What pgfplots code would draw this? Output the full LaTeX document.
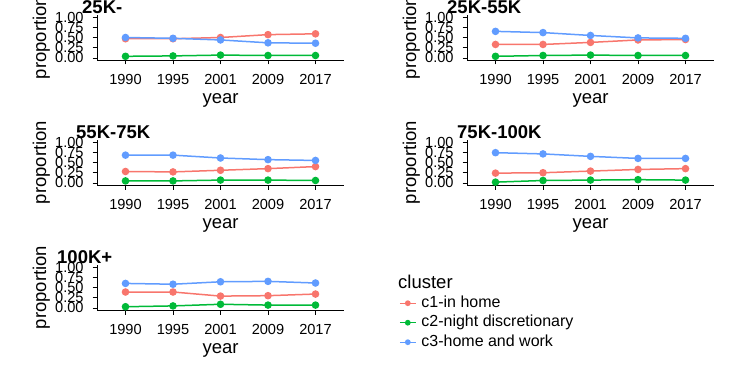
\documentclass[border=0pt]{standalone}
\usepackage{pgfplots}
\pgfplotsset{compat=1.18}
\usepackage{fontspec}
\setmainfont{Liberation Sans}

\definecolor{cone}{HTML}{F8766D}
\definecolor{ctwo}{HTML}{00BA38}
\definecolor{cthree}{HTML}{619CFF}

\newcommand\ticksize{\fontsize{14.6}{15}\selectfont}
\newcommand\labsize{\fontsize{18.5}{20}\selectfont}
\newcommand\legsize{\fontsize{16}{17}\selectfont}

\pgfplotsset{
  facet/.style={
    scale only axis, width=247pt, height=45pt,
    xmin=0.4, xmax=5.6, ymin=-0.05, ymax=1.05,
    axis x line*=bottom, axis y line*=left,
    axis line style={line width=0.9pt, black},
    xtick={1,2,3,4,5}, xticklabels={1990,1995,2001,2009,2017},
    ytick={0,0.25,0.5,0.75,1}, yticklabels={0.00,0.25,0.50,0.75,1.00},
    tick align=outside, major tick length=4.5pt,
    tick style={black, line width=0.9pt},
    ticklabel style={font=\ticksize, inner sep=0pt},
    xticklabel style={anchor=north, yshift=-10pt},
    yticklabel style={anchor=east, xshift=-8.7pt},
    xlabel={year}, ylabel={proportion},
    every axis x label/.style={at={(axis description cs:0.5,0)}, anchor=base, yshift=-43.5pt, font=\labsize},
    every axis y label/.style={at={(axis description cs:0,0.5)}, xshift=-51pt, anchor=base, rotate=90, font=\labsize},
    every axis plot/.append style={line width=1.5pt, mark=*, mark size=3pt},
    clip=false,
  },
}

\begin{document}
\begin{tikzpicture}
\useasboundingbox (0pt,0pt) rectangle (743pt,375pt);

% 25K-
\begin{axis}[facet, at={(97pt,315pt)}, anchor=south west]
\addplot[cone] coordinates {(1,0.47) (2,0.47) (3,0.50) (4,0.57) (5,0.59)};
\addplot[ctwo] coordinates {(1,0.04) (2,0.05) (3,0.07) (4,0.06) (5,0.06)};
\addplot[cthree] coordinates {(1,0.50) (2,0.48) (3,0.44) (4,0.37) (5,0.36)};
\end{axis}

% 25K-55K
\begin{axis}[facet, at={(467pt,315pt)}, anchor=south west]
\addplot[cone] coordinates {(1,0.33) (2,0.33) (3,0.38) (4,0.44) (5,0.45)};
\addplot[ctwo] coordinates {(1,0.04) (2,0.06) (3,0.07) (4,0.06) (5,0.06)};
\addplot[cthree] coordinates {(1,0.65) (2,0.62) (3,0.55) (4,0.49) (5,0.48)};
\end{axis}

% 55K-75K
\begin{axis}[facet, at={(97pt,190pt)}, anchor=south west]
\addplot[cone] coordinates {(1,0.28) (2,0.27) (3,0.31) (4,0.35) (5,0.40)};
\addplot[ctwo] coordinates {(1,0.05) (2,0.05) (3,0.07) (4,0.07) (5,0.06)};
\addplot[cthree] coordinates {(1,0.68) (2,0.68) (3,0.61) (4,0.57) (5,0.55)};
\end{axis}

% 75K-100K
\begin{axis}[facet, at={(467pt,190pt)}, anchor=south west]
\addplot[cone] coordinates {(1,0.24) (2,0.25) (3,0.29) (4,0.33) (5,0.35)};
\addplot[ctwo] coordinates {(1,0.02) (2,0.06) (3,0.07) (4,0.08) (5,0.07)};
\addplot[cthree] coordinates {(1,0.74) (2,0.71) (3,0.65) (4,0.60) (5,0.60)};
\end{axis}

% 100K+ (carries the legend)
\begin{axis}[facet, at={(97pt,65pt)}, anchor=south west,
  legend cell align=left,
  legend style={at={(axis description cs:1.2227,0.333)}, anchor=north west,
    draw=none, fill=none, inner sep=0pt, font=\legsize,
    row sep=3.5pt, column sep=5pt,
    nodes={inner sep=0pt, text height=12pt, text depth=4pt}},
  legend image code/.code={
    \draw[#1, mark=none, line width=1.2pt] (0pt,0pt) -- (16pt,0pt);
    \draw[#1, only marks, mark size=2.1pt] plot coordinates {(8pt,0pt)};}]
\addplot[cone] coordinates {(1,0.39) (2,0.39) (3,0.29) (4,0.30) (5,0.34)};
\addlegendentry{c1-in home}
\addplot[ctwo] coordinates {(1,0.03) (2,0.05) (3,0.09) (4,0.07) (5,0.07)};
\addlegendentry{c2-night discretionary}
\addplot[cthree] coordinates {(1,0.60) (2,0.58) (3,0.64) (4,0.65) (5,0.61)};
\addlegendentry{c3-home and work}
\end{axis}

% panel titles
\node[anchor=base west, inner sep=0pt, font=\labsize\bfseries] at (82pt,361.5pt) {25K-};
\node[anchor=base west, inner sep=0pt, font=\labsize\bfseries] at (447pt,361.5pt) {25K-55K};
\node[anchor=base west, inner sep=0pt, font=\labsize\bfseries] at (76pt,236.7pt) {55K-75K};
\node[anchor=base west, inner sep=0pt, font=\labsize\bfseries] at (457pt,236.7pt) {75K-100K};
\node[anchor=base west, inner sep=0pt, font=\labsize\bfseries] at (57pt,111.5pt) {100K+};
% legend title
\node[anchor=base west, inner sep=0pt, font=\labsize] at (398pt,86.7pt) {cluster};
\end{tikzpicture}
\end{document}
